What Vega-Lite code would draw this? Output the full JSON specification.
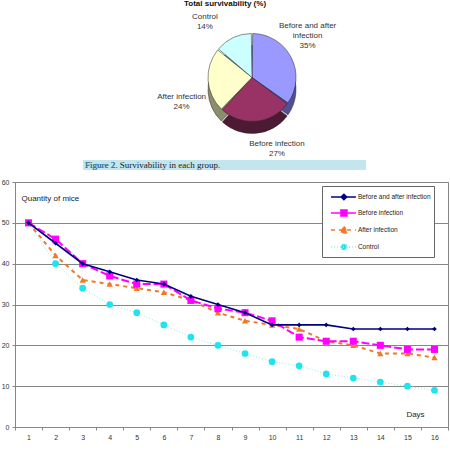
{
  "$schema": "https://vega.github.io/schema/vega-lite/v6.json",
  "padding": 0,
  "background": "white",
  "config": {
    "font": "Liberation Sans",
    "view": {"stroke": null}
  },
  "datasets": {
    "pie": [
      {"group": "Before and after infection", "pct": 35, "label": ["Before and after", "infection", "35%"]},
      {"group": "Before infection", "pct": 27, "label": ["Before infection", "27%"]},
      {"group": "After infection", "pct": 24, "label": ["After infection", "24%"]},
      {"group": "Control", "pct": 14, "label": ["Control", "14%"]}
    ],
    "mice": [
      {"day": 1, "group": "Before and after infection", "mice": 50},
      {"day": 2, "group": "Before and after infection", "mice": 45},
      {"day": 3, "group": "Before and after infection", "mice": 40},
      {"day": 4, "group": "Before and after infection", "mice": 38},
      {"day": 5, "group": "Before and after infection", "mice": 36},
      {"day": 6, "group": "Before and after infection", "mice": 35},
      {"day": 7, "group": "Before and after infection", "mice": 32},
      {"day": 8, "group": "Before and after infection", "mice": 30},
      {"day": 9, "group": "Before and after infection", "mice": 28},
      {"day": 10, "group": "Before and after infection", "mice": 25},
      {"day": 11, "group": "Before and after infection", "mice": 25},
      {"day": 12, "group": "Before and after infection", "mice": 25},
      {"day": 13, "group": "Before and after infection", "mice": 24},
      {"day": 14, "group": "Before and after infection", "mice": 24},
      {"day": 15, "group": "Before and after infection", "mice": 24},
      {"day": 16, "group": "Before and after infection", "mice": 24},
      {"day": 1, "group": "Before infection", "mice": 50},
      {"day": 2, "group": "Before infection", "mice": 46},
      {"day": 3, "group": "Before infection", "mice": 40},
      {"day": 4, "group": "Before infection", "mice": 37},
      {"day": 5, "group": "Before infection", "mice": 35},
      {"day": 6, "group": "Before infection", "mice": 35},
      {"day": 7, "group": "Before infection", "mice": 31},
      {"day": 8, "group": "Before infection", "mice": 29},
      {"day": 9, "group": "Before infection", "mice": 28},
      {"day": 10, "group": "Before infection", "mice": 26},
      {"day": 11, "group": "Before infection", "mice": 22},
      {"day": 12, "group": "Before infection", "mice": 21},
      {"day": 13, "group": "Before infection", "mice": 21},
      {"day": 14, "group": "Before infection", "mice": 20},
      {"day": 15, "group": "Before infection", "mice": 19},
      {"day": 16, "group": "Before infection", "mice": 19},
      {"day": 1, "group": "After infection", "mice": 50},
      {"day": 2, "group": "After infection", "mice": 42},
      {"day": 3, "group": "After infection", "mice": 36},
      {"day": 4, "group": "After infection", "mice": 35},
      {"day": 5, "group": "After infection", "mice": 34},
      {"day": 6, "group": "After infection", "mice": 33},
      {"day": 7, "group": "After infection", "mice": 31},
      {"day": 8, "group": "After infection", "mice": 28},
      {"day": 9, "group": "After infection", "mice": 26},
      {"day": 10, "group": "After infection", "mice": 25},
      {"day": 11, "group": "After infection", "mice": 24},
      {"day": 12, "group": "After infection", "mice": 21},
      {"day": 13, "group": "After infection", "mice": 20},
      {"day": 14, "group": "After infection", "mice": 18},
      {"day": 15, "group": "After infection", "mice": 18},
      {"day": 16, "group": "After infection", "mice": 17},
      {"day": 1, "group": "Control", "mice": 50},
      {"day": 2, "group": "Control", "mice": 40},
      {"day": 3, "group": "Control", "mice": 34},
      {"day": 4, "group": "Control", "mice": 30},
      {"day": 5, "group": "Control", "mice": 28},
      {"day": 6, "group": "Control", "mice": 25},
      {"day": 7, "group": "Control", "mice": 22},
      {"day": 8, "group": "Control", "mice": 20},
      {"day": 9, "group": "Control", "mice": 18},
      {"day": 10, "group": "Control", "mice": 16},
      {"day": 11, "group": "Control", "mice": 15},
      {"day": 12, "group": "Control", "mice": 13},
      {"day": 13, "group": "Control", "mice": 12},
      {"day": 14, "group": "Control", "mice": 11},
      {"day": 15, "group": "Control", "mice": 10},
      {"day": 16, "group": "Control", "mice": 9}
    ]
  },
  "center": true,
  "spacing": 7,
  "vconcat": [
    {
      "center": true,
      "spacing": 0,
      "vconcat": [
        {
          "width": 420,
          "height": 135,
          "title": {"text": "Total survivability (%)", "fontSize": 8, "fontWeight": "bold", "color": "#111111", "offset": 2, "dx": -7},
          "data": {"name": "pie"},
          "encoding": {
            "theta": {"field": "pct", "type": "quantitative", "stack": true},
            "order": {"field": "pct", "sort": "descending"}
          },
          "layer": [
            {
              "mark": {"type": "arc", "outerRadius": 44, "xOffset": 20, "yOffset": 12, "stroke": "#222222", "strokeWidth": 0.5, "padAngle": 0.03},
              "encoding": {
                "color": {"field": "group", "type": "nominal", "legend": null,
                  "scale": {"domain": ["Before and after infection", "Before infection", "After infection", "Control"],
                            "range": ["#505096", "#4D1A33", "#8C8C6E", "#668080"]}}
              }
            },
            {
              "mark": {"type": "arc", "outerRadius": 44, "xOffset": 20, "yOffset": 0, "stroke": "#222222", "strokeWidth": 0.5, "padAngle": 0.03},
              "encoding": {
                "color": {"field": "group", "type": "nominal", "legend": null,
                  "scale": {"domain": ["Before and after infection", "Before infection", "After infection", "Control"],
                            "range": ["#9999FF", "#993366", "#FFFFCC", "#CCFFFF"]}}
              }
            },
            {
              "mark": {"type": "text", "radius": 74, "thetaOffset": -0.25, "xOffset": 20, "yOffset": -3, "fontSize": 8, "color": "#333333", "lineHeight": 10},
              "encoding": {"text": {"field": "label", "type": "nominal"}}
            }
          ],
          "resolve": {"scale": {"color": "independent"}}
        },
        {
          "spacing": 0,
          "hconcat": [
            {
              "width": 283,
              "height": 10,
              "view": {"fill": "#C3E5EE", "stroke": null},
              "data": {"values": [{"caption": "Figure 2. Survivability in each group.", "fig": "Figure 2."}]},
              "layer": [
                {"mark": {"type": "text", "align": "left", "baseline": "middle", "x": 2, "font": "Liberation Serif", "fontSize": 9, "color": "#1A1A1A"},
                 "encoding": {"text": {"field": "caption", "type": "nominal"}}},
                {"mark": {"type": "text", "align": "left", "baseline": "middle", "x": 2, "font": "Liberation Serif", "fontSize": 9, "color": "#3A8CC0"},
                 "encoding": {"text": {"field": "fig", "type": "nominal"}}}
              ]
            },
            {
              "width": 15,
              "height": 10,
              "data": {"values": [{"blank": ""}]},
              "mark": {"type": "text"},
              "encoding": {"text": {"field": "blank", "type": "nominal"}}
            }
          ]
        }
      ]
    },
    {
      "width": 433,
      "height": 245,
      "view": {"stroke": "#868686", "strokeWidth": 1},
      "data": {"name": "mice"},
      "encoding": {
        "x": {"field": "day", "type": "ordinal",
          "scale": {"type": "band", "paddingInner": 0, "paddingOuter": 0},
          "axis": {"labelAngle": 0, "grid": false, "tickBand": "extent",
            "tickSize": 3, "tickColor": "#868686", "domainColor": "#868686",
            "labelFontSize": 7, "labelColor": "#333333", "labelPadding": 3,
            "title": "Days", "titleX": 400, "titleY": -13, "titleFontSize": 8, "titleFontWeight": "normal",
            "titleColor": "#222222", "titleAlign": "center", "titleBaseline": "middle"}},
        "y": {"field": "mice", "type": "quantitative",
          "scale": {"domain": [0, 60], "nice": false},
          "axis": {"values": [0, 10, 20, 30, 40, 50, 60], "gridColor": "#868686", "gridWidth": 1,
            "tickSize": 3, "tickColor": "#868686", "domainColor": "#868686", "labelPadding": 3,
            "labelFontSize": 7, "labelColor": "#333333",
            "title": "Quantity of mice", "titleAngle": 0, "titleX": 6, "titleY": 16, "titleAlign": "left",
            "titleBaseline": "middle", "titleFontSize": 8, "titleFontWeight": "normal", "titleColor": "#222222"}}
      },
      "layer": [
        {
          "transform": [{"filter": "datum.group == 'Control'"}],
          "mark": {"type": "line", "color": "#8EEAF0", "strokeWidth": 1, "strokeDash": [1, 2],
            "point": {"shape": "circle", "size": 45, "filled": true, "color": "#1EE4F0", "opacity": 1}}
        },
        {
          "transform": [{"filter": "datum.group == 'After infection'"}],
          "mark": {"type": "line", "color": "#F07828", "strokeWidth": 2, "strokeDash": [4, 4],
            "point": {"shape": "triangle-up", "size": 40, "filled": true, "color": "#F07828", "opacity": 1}}
        },
        {
          "transform": [{"filter": "datum.group == 'Before infection'"}],
          "mark": {"type": "line", "color": "#FF00FF", "strokeWidth": 2, "strokeDash": [8, 3],
            "point": {"shape": "square", "size": 50, "filled": true, "color": "#FF00FF", "opacity": 1}}
        },
        {
          "transform": [{"filter": "datum.group == 'Before and after infection'"}],
          "mark": {"type": "line", "color": "#000080", "strokeWidth": 1.6,
            "point": {"shape": "diamond", "size": 22, "filled": true, "color": "#000080", "opacity": 1}}
        },
        {
          "transform": [{"filter": "datum.mice > 100"}],
          "mark": {"type": "point", "opacity": 1, "strokeWidth": 1.6},
          "encoding": {
            "fill": {"field": "group", "type": "nominal",
              "scale": {"domain": ["Before and after infection", "Before infection", "After infection", "Control"],
                        "range": ["#000080", "#FF00FF", "#F07828", "#1EE4F0"]},
              "legend": {"title": null, "orient": "none", "legendX": 307, "legendY": 176,
                "padding": 3, "fillColor": "white", "strokeColor": "#666666",
                "labelFont": "Liberation Sans", "labelFontSize": 6.5, "labelColor": "#222222",
                "labelOffset": 16.9, "symbolSize": 200, "symbolStrokeWidth": 1.6, "rowPadding": 2}},
            "stroke": {"field": "group", "type": "nominal",
              "scale": {"domain": ["Before and after infection", "Before infection", "After infection", "Control"],
                        "range": ["#000080", "#FF00FF", "#F07828", "#8EEAF0"]},
              "legend": {"title": null}},
            "strokeDash": {"field": "group", "type": "nominal",
              "scale": {"domain": ["Before and after infection", "Before infection", "After infection", "Control"],
                        "range": [[1, 0], [1, 0], [4, 4], [1, 2]]},
              "legend": {"title": null}},
            "shape": {"field": "group", "type": "nominal",
              "scale": {"domain": ["Before and after infection", "Before infection", "After infection", "Control"],
                        "range": [
                          "M-0.29,0H3.24M1.55,-0.38L1.93,0L1.55,0.38L1.17,0Z",
                          "M-0.29,0H3.24M1.13,-0.42H1.97V0.42H1.13Z",
                          "M-0.29,0H3.24M1.55,-0.5L2.05,0.4L1.05,0.4Z",
                          "M-0.29,0H3.24M1.97,0A0.42,0.42,0,1,1,1.13,0A0.42,0.42,0,1,1,1.97,0Z"
                        ]},
              "legend": {"title": null}}
          }
        }
      ]
    }
  ]
}
